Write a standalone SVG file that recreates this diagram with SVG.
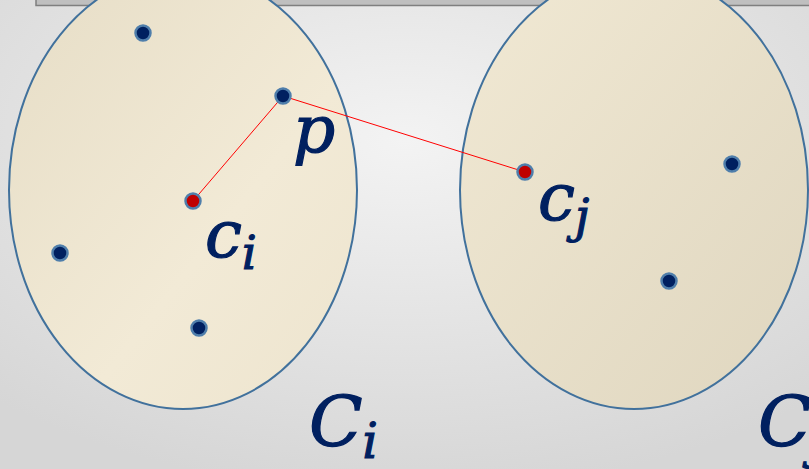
<svg xmlns="http://www.w3.org/2000/svg" width="809" height="469" viewBox="0 0 809 469">
<defs>
<radialGradient id="bg" cx="0.5" cy="0.3" r="0.75">
<stop offset="0" stop-color="#f3f3f3"/>
<stop offset="1" stop-color="#d6d6d6"/>
</radialGradient>
<linearGradient id="fillL" x1="0" y1="0" x2="1" y2="1">
<stop offset="0" stop-color="#e6ddc6"/>
<stop offset="0.6" stop-color="#f2ead6"/>
<stop offset="1" stop-color="#ede4ce"/>
</linearGradient>
<linearGradient id="fillR" x1="0" y1="0" x2="1" y2="1">
<stop offset="0" stop-color="#f1e9d4"/>
<stop offset="1" stop-color="#dfd6bf"/>
</linearGradient>
<style>
.cl{stroke:#41719c;stroke-width:2}
.pt{fill:#002060;stroke:#4f7eab;stroke-width:2.5}
.ct{fill:#c00000;stroke:#4f7eab;stroke-width:2.5}
.ln{stroke:#ff0000;stroke-width:1;fill:none}
.lb{font-family:"DejaVu Serif",serif;font-style:italic;fill:#002060;stroke:#002060;stroke-width:1.2}
</style>
</defs>
<rect width="809" height="469" fill="url(#bg)"/>
<rect x="36" y="-4" width="780" height="9.5" fill="#bfbfbf" stroke="#7f7f7f" stroke-width="1.5"/>
<g id="clusterI"><ellipse class="cl" cx="183" cy="190" rx="174" ry="219" fill="url(#fillL)"/></g>
<g id="clusterJ"><ellipse class="cl" cx="634" cy="190" rx="174" ry="219" fill="url(#fillR)"/></g>
<g id="connectors">
<line class="ln" x1="193" y1="201" x2="283" y2="96"/>
<line class="ln" x1="283" y1="96" x2="525" y2="172"/>
</g>
<g id="p1"><circle class="pt" cx="143" cy="33" r="7.5"/></g>
<g id="p"><circle class="pt" cx="283" cy="96" r="7.5"/></g>
<g id="ci"><circle class="ct" cx="193" cy="201" r="7.5"/></g>
<g id="p3"><circle class="pt" cx="60" cy="253" r="7.5"/></g>
<g id="p4"><circle class="pt" cx="199" cy="328" r="7.5"/></g>
<g id="cj"><circle class="ct" cx="525" cy="172" r="7.5"/></g>
<g id="p5"><circle class="pt" cx="732" cy="164" r="7.5"/></g>
<g id="p6"><circle class="pt" cx="669" cy="281" r="7.5"/></g>
<g id="labels">
<text class="lb" x="293" y="152" font-size="66">p</text>
<text class="lb" x="205" y="257" font-size="66">c<tspan font-size="46" dy="12">i</tspan></text>
<text class="lb" x="538" y="220" font-size="66">c<tspan font-size="46" dy="12">j</tspan></text>
<text class="lb" x="309" y="446" font-size="70">C<tspan font-size="48" dy="12">i</tspan></text>
<text class="lb" x="758" y="446" font-size="70">C<tspan font-size="48" dy="12">j</tspan></text>
</g>
</svg>
